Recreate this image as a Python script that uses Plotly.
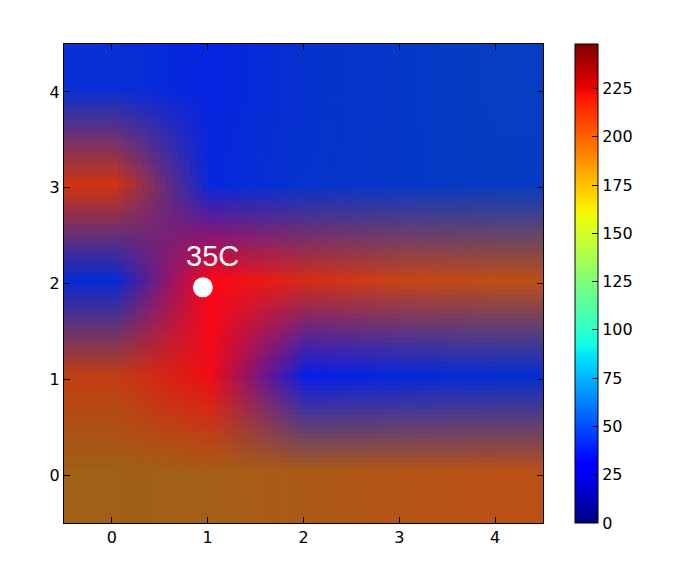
import base64
import struct
import zlib

import numpy as np
import plotly.graph_objects as go

# Cell colours of the 5x5 image (row 0 = y 0 at bottom)
row_y0 = [(160, 96, 22), (165, 95, 22), (172, 90, 22), (180, 85, 22), (186, 80, 22)]
row_y1 = [(192, 62, 20), (238, 12, 22), (8, 30, 232), (6, 40, 220), (6, 46, 210)]
row_y2 = [(6, 42, 212), (255, 6, 22), (214, 44, 22), (200, 68, 22), (190, 78, 22)]
row_y3 = [(208, 52, 16), (6, 40, 222), (6, 52, 205), (6, 56, 200), (6, 60, 195)]
row_y4 = [(8, 48, 212), (6, 36, 226), (6, 50, 206), (6, 56, 200), (6, 62, 195)]

# Colour bar
cbar_min = 0
cbar_max = 248
cbar_ticks = [0, 25, 50, 75, 100, 125, 150, 175, 200, 225]

# Marker / label
point_x = [0.95]
point_y = [1.96]
label_x = 1.055
label_y = 2.29
label_text = "35C"

# matplotlib "jet" segment data
jet_red = [(0, 0), (0.35, 0), (0.66, 1), (0.89, 1), (1, 0.5)]
jet_green = [(0, 0), (0.125, 0), (0.375, 1), (0.64, 1), (0.91, 0), (1, 0)]
jet_blue = [(0, 0.5), (0.11, 1), (0.34, 1), (0.65, 0), (1, 0)]


def build_jet():
    pos = sorted(set([p for p, _ in jet_red + jet_green + jet_blue]))
    out = []
    for p in pos:
        ch = []
        for seg in (jet_red, jet_green, jet_blue):
            xs = [s[0] for s in seg]
            ys = [s[1] for s in seg]
            ch.append(int(round(255 * np.interp(p, xs, ys))))
        out.append([p, "rgb(%d,%d,%d)" % tuple(ch)])
    return out


def png_data_uri(arr):
    h, w, _ = arr.shape
    raw = b"".join(b"\x00" + arr[r].astype(np.uint8).tobytes() for r in range(h))

    def chunk(tag, data):
        c = struct.pack(">I", len(data)) + tag + data
        return c + struct.pack(">I", zlib.crc32(tag + data) & 0xFFFFFFFF)

    png = b"\x89PNG\r\n\x1a\n"
    png += chunk(b"IHDR", struct.pack(">IIBBBBB", w, h, 8, 2, 0, 0, 0))
    png += chunk(b"IDAT", zlib.compress(raw, 9))
    png += chunk(b"IEND", b"")
    return "data:image/png;base64," + base64.b64encode(png).decode("ascii")


image = np.array([row_y0, row_y1, row_y2, row_y3, row_y4], dtype=np.uint8)

fig = go.Figure()
fig.add_trace(go.Image(source=png_data_uri(image), x0=0, y0=0, dx=1, dy=1,
                       zsmooth="fast", hoverinfo="skip"))

fig.add_trace(go.Scatter(
    x=[None], y=[None], mode="markers", showlegend=False, hoverinfo="skip",
    marker=dict(color=[cbar_min], cmin=cbar_min, cmax=cbar_max,
                colorscale=build_jet(), showscale=True,
                colorbar=dict(
                    x=(575 - 64) / 479, xanchor="left", xpad=0,
                    y=0.5, yanchor="middle", len=1, lenmode="fraction", ypad=0,
                    thickness=23, thicknessmode="pixels",
                    outlinewidth=1, outlinecolor="black",
                    tickvals=cbar_ticks, ticks="inside", ticklen=6,
                    tickcolor="black",
                    tickfont=dict(family="DejaVu Sans", size=16, color="black"),
                ))))

fig.add_trace(go.Scatter(
    x=point_x, y=point_y, mode="markers", showlegend=False,
    marker=dict(color="white", size=20, line=dict(width=0)),
))

fig.add_annotation(x=label_x, y=label_y, text=label_text, showarrow=False,
                   font=dict(family="Liberation Sans, Arial", size=29, color="white"),
                   xanchor="center", yanchor="middle")

axis_common = dict(
    showgrid=False, zeroline=False, showline=True, linecolor="black",
    linewidth=1, mirror="allticks", ticks="inside", ticklen=6,
    tickcolor="black", tickvals=[0, 1, 2, 3, 4],
    tickfont=dict(family="DejaVu Sans", size=16, color="black"),
)

fig.update_xaxes(range=[-0.5, 4.5], **axis_common)
fig.update_yaxes(range=[-0.5, 4.5], autorange=False, **axis_common)

# the page body adds an 8px offset, so compensate in size and margins
fig.update_layout(
    width=671, height=557,
    margin=dict(l=56, r=136, t=36, b=42, autoexpand=False),
    paper_bgcolor="white", plot_bgcolor="white",
    showlegend=False,
)

fig.write_html("out.html")
